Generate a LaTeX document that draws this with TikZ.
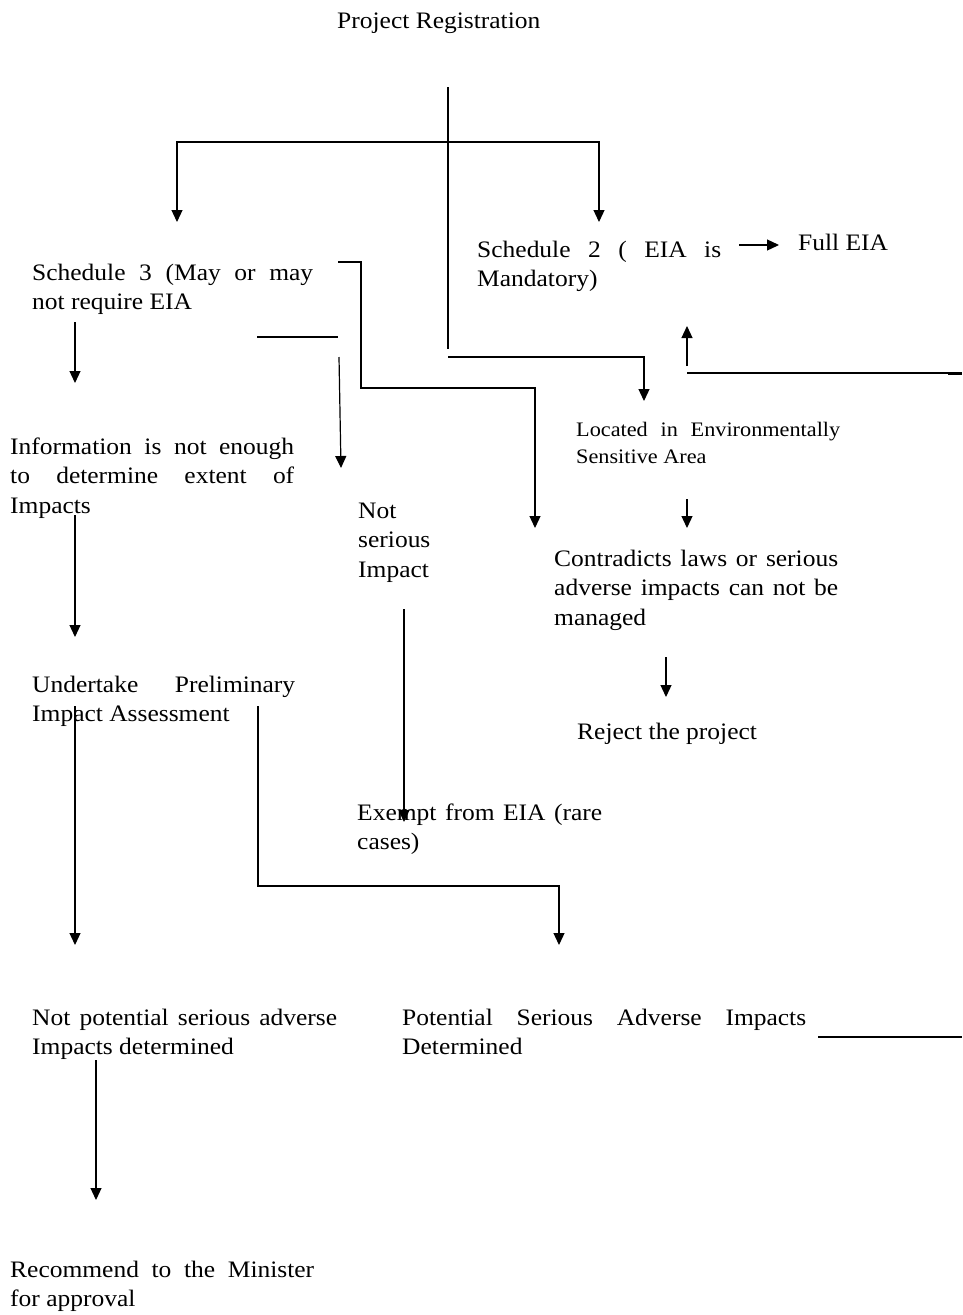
\documentclass[tikz,border=0pt]{standalone}
\usepackage{fontspec}
\setmainfont{Liberation Serif}[FakeStretch=1.08]
\usetikzlibrary{arrows.meta}
\hyphenpenalty=10000
\exhyphenpenalty=10000
\tolerance=9999
\newcommand{\noshrink}{\spaceskip=\fontdimen2\font plus 3\fontdimen3\font minus 0pt\relax}
\begin{document}
\begin{tikzpicture}[x=1pt,y=-1pt,
  txt/.style={inner sep=0pt, anchor=base west, align=justify,
    font=\fontsize{23.6}{29.7}\selectfont\noshrink},
  txtl/.style={inner sep=0pt, anchor=base west, align=left,
    font=\fontsize{23.6}{29.7}\selectfont\noshrink},
  smalltxt/.style={inner sep=0pt, anchor=base west, align=justify,
    font=\fontsize{20.6}{27}\selectfont\noshrink},
  con/.style={line width=1.2pt},
  >={Triangle[length=12pt,width=11pt]}]
\useasboundingbox (0,0) rectangle (962,1315);

% texts
\node[txtl] (pr) at (337,28) {Project Registration};
\node[txt, text width=281pt] (s3) at (32,280) {Schedule 3 (May or may not require EIA};
\node[txt, text width=244pt] (s2) at (477,257) {Schedule 2 ( EIA is Mandatory)};
\node[txtl] (full) at (798,250) {Full EIA};
\node[smalltxt, text width=264pt] (loc) at (576,436) {Located in Environmentally Sensitive Area};
\node[txt, text width=284pt] (info) at (10,454) {Information is not enough to determine extent of Impacts};
\node[txtl, text width=90pt] (ns) at (358,518) {Not\\serious\\Impact};
\node[txt, text width=284pt] (contra) at (554,566) {Contradicts laws or serious adverse impacts can not be managed};
\node[txt, text width=263pt] (under) at (32,692) {Undertake Preliminary Impact Assessment};
\node[txtl] (reject) at (577,739) {Reject the project};
\node[txt, text width=245pt] (exempt) at (357,820) {Exempt from EIA (rare cases)};
\node[txt, text width=305pt] (notpot) at (32,1025) {Not potential serious adverse Impacts determined};
\node[txt, text width=404pt] (pot) at (402,1025) {Potential Serious Adverse Impacts Determined};
\node[txt, text width=304pt] (rec) at (10,1277) {Recommend to the Minister for approval};

% connector end points
\coordinate (a1) at (448,87);   \coordinate (a2) at (448,349);
\coordinate (b1) at (177,222);  \coordinate (b2) at (177,142);
\coordinate (b3) at (599,142);  \coordinate (b4) at (599,222);
\coordinate (c1) at (448,357);  \coordinate (c2) at (644,357);  \coordinate (c3) at (644,401);
\coordinate (d1) at (338,262);  \coordinate (d2) at (361,262);
\coordinate (d3) at (361,388);  \coordinate (d4) at (535,388);  \coordinate (d5) at (535,528);
\coordinate (e1) at (257,337);  \coordinate (e2) at (338,337);
\coordinate (f1) at (339,357);  \coordinate (f2) at (341,468);
\coordinate (g1) at (75,322);   \coordinate (g2) at (75,383);
\coordinate (h1) at (739,245);  \coordinate (h2) at (779,245);
\coordinate (i1) at (962,373);  \coordinate (i2) at (687,373);
\coordinate (i3) at (687,366);  \coordinate (i4) at (687,326);
\coordinate (t1) at (948,373.5); \coordinate (t2) at (962,373.5);
\coordinate (j1) at (687,499);  \coordinate (j2) at (687,528);
\coordinate (k1) at (666,657);  \coordinate (k2) at (666,697);
\coordinate (l1) at (404,609);  \coordinate (l2) at (404,822);
\coordinate (m1) at (75,515);   \coordinate (m2) at (75,637);
\coordinate (n1) at (75,706);   \coordinate (n2) at (75,945);
\coordinate (o1) at (258,706);  \coordinate (o2) at (258,886);
\coordinate (o3) at (559,886);  \coordinate (o4) at (559,945);
\coordinate (p1) at (96,1060);  \coordinate (p2) at (96,1200);
\coordinate (q1) at (818,1037); \coordinate (q2) at (962,1037);

% connectors
\draw[con] (a1) -- (a2);
\draw[con,<->] (b1) -- (b2) -- (b3) -- (b4);
\draw[con,->] (c1) -- (c2) -- (c3);
\draw[con,->] (d1) -- (d2) -- (d3) -- (d4) -- (d5);
\draw[con] (e1) -- (e2);
\draw[con,->] (f1) -- (f2);
\draw[con,->] (g1) -- (g2);
\draw[con,->] (h1) -- (h2);
\draw[con] (i1) -- (i2);
\draw[con,->] (i3) -- (i4);
\draw[line width=2.2pt] (t1) -- (t2);
\draw[con,->] (j1) -- (j2);
\draw[con,->] (k1) -- (k2);
\draw[con,->] (l1) -- (l2);
\draw[con,->] (m1) -- (m2);
\draw[con,->] (n1) -- (n2);
\draw[con,->] (o1) -- (o2) -- (o3) -- (o4);
\draw[con,->] (p1) -- (p2);
\draw[con] (q1) -- (q2);
\end{tikzpicture}
\end{document}
